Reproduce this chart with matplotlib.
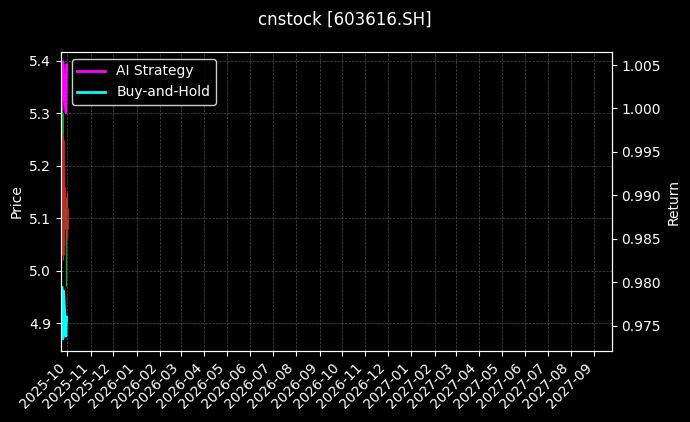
import matplotlib
matplotlib.use("Agg")
import matplotlib.pyplot as plt
import matplotlib.dates as mdates
import pandas as pd

plt.style.use("dark_background")

title = "cnstock [603616.SH]"
dates = ["2025-09-24", "2025-09-25", "2025-09-26", "2025-09-29", "2025-09-30"]
opens = [5.26, 5.25, 5.16, 5.08, 5.12]
highs = [5.31, 5.26, 5.20, 5.14, 5.15]
lows = [5.24, 5.02, 5.05, 4.97, 5.06]
closes = [5.30, 5.03, 5.10, 5.12, 5.08]
ai_strategy = [1.0000, 1.0054, 1.0040, 0.9995, 1.0050]
buy_hold = [0.9794, 0.9735, 0.9790, 0.9738, 0.9760]
xlim_dates = ["2025-09-22 14:00", "2027-09-24"]

x = mdates.date2num(pd.to_datetime(dates))

fig = plt.figure(figsize=(6.9, 4.22), dpi=100)
ax = fig.add_axes([0.0884, 0.1682, 0.798, 0.7086])
ax2 = ax.twinx()

for xi, o, h, l, c in zip(x, opens, highs, lows, closes):
    col = "#1a9a2a" if c >= o else "#d42020"
    ax.vlines(xi, l, h, color=col, linewidth=1)
    ax.vlines(xi, min(o, c), max(o, c), color=col, linewidth=2)

ax2.plot(x, ai_strategy, color="magenta", linewidth=2, label="AI Strategy")
ax2.plot(x, buy_hold, color="cyan", linewidth=2, label="Buy-and-Hold")

ax.set_xlim(mdates.date2num(pd.to_datetime(xlim_dates[0])), mdates.date2num(pd.to_datetime(xlim_dates[1])))
ax.set_ylim(4.847, 5.417)
ax2.set_ylim(0.9721, 1.0065)
ax.set_yticks([4.9, 5.0, 5.1, 5.2, 5.3, 5.4])
ax2.set_yticks([0.975, 0.980, 0.985, 0.990, 0.995, 1.000, 1.005])

ax.xaxis.set_major_locator(mdates.MonthLocator())
ax.xaxis.set_major_formatter(mdates.DateFormatter("%Y-%m"))
plt.setp(ax.get_xticklabels(), rotation=45, ha="right")

ax.grid(True, linestyle="--", linewidth=0.5, color="gray", alpha=0.6)
ax.set_ylabel("Price")
ax2.set_ylabel("Return")
fig.suptitle(title, fontsize=12, y=0.975)

leg = ax2.legend(loc="upper left", bbox_to_anchor=(0.007, 1.0), facecolor="black", edgecolor="white")

fig.savefig("out.png", dpi=100)
